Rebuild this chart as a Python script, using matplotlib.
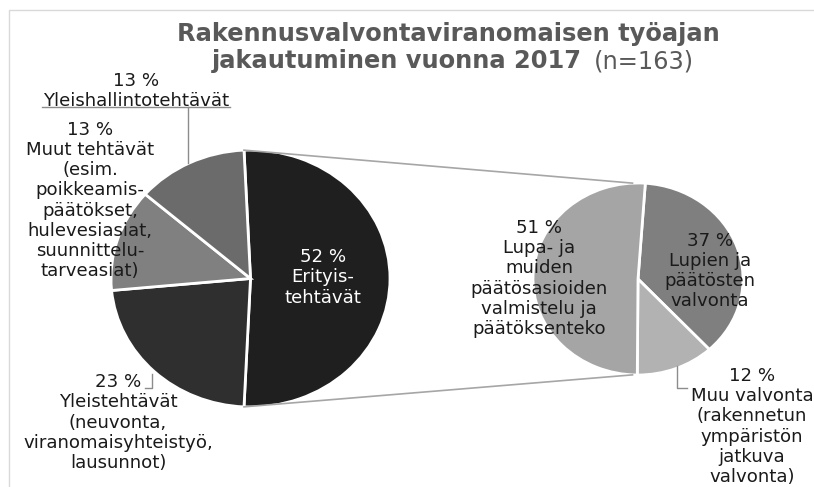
import matplotlib
matplotlib.use("Agg")
import matplotlib.pyplot as plt
import numpy as np

# ---- data ----
main_labels = ["Erityis-\ntehtävät",
               "Yleistehtävät\n(neuvonta,\nviranomaisyhteistyö,\nlausunnot)",
               "Muut tehtävät\n(esim.\npoikkeamis-\npäätökset,\nhulevesiasiat,\nsuunnittelu-\ntarveasiat)",
               "Yleishallintotehtävät"]
main_values = [52, 23, 13, 13]
main_colors = ["#1f1f1f", "#2f2f2f", "#808080", "#6b6b6b"]

sub_labels = ["Lupien ja\npäätösten\nvalvonta",
              "Muu valvonta\n(rakennetun\nympäristön\njatkuva\nvalvonta)",
              "Lupa- ja\nmuiden\npäätösasioiden\nvalmistelu ja\npäätöksenteko"]
sub_values = [37, 12, 51]
sub_colors = ["#7f7f7f", "#b2b2b2", "#a5a5a5"]

title_bold_1 = "Rakennusvalvontaviranomaisen työajan"
title_bold_2 = "jakautuminen vuonna 2017"
title_norm_2 = "(n=163)"

W, H = 814, 487
fig = plt.figure(figsize=(W / 100, H / 100), dpi=100)
fig.patch.set_facecolor("white")

def px_axes(cx, cy, rx, ry):
    return fig.add_axes([(cx - rx) / W, (H - (cy + ry)) / H, 2 * rx / W, 2 * ry / H])

# pie geometry (pixels)
mcx, mcy, mrx, mry = 250.5, 278.5, 139.5, 128.5
scx, scy, srx, sry = 638, 279, 105, 96

total = sum(main_values)
start_main = main_values[0] / total * 180.0
axm = px_axes(mcx, mcy, mrx, mry)
axm.pie(main_values, colors=main_colors, startangle=start_main, counterclock=False,
        radius=1, wedgeprops=dict(edgecolor="white", linewidth=2))
axm.set_aspect("auto")
axm.set_xlim(-1, 1); axm.set_ylim(-1, 1)
axm.axis("off")

axs = px_axes(scx, scy, srx, sry)
axs.pie(sub_values, colors=sub_colors, startangle=86, counterclock=False,
        radius=1, wedgeprops=dict(edgecolor="white", linewidth=2))
axs.set_aspect("auto")
axs.set_xlim(-1, 1); axs.set_ylim(-1, 1)
axs.axis("off")

# overlay in pixel coordinates
ov = fig.add_axes([0, 0, 1, 1], zorder=5)
ov.set_xlim(0, W); ov.set_ylim(H, 0)
ov.axis("off")

# chart border
ov.plot([9, 9, W], [H, 10, 10], color="#d9d9d9", lw=1)

# connector lines
a = np.deg2rad(start_main)
p_top = (mcx + mrx * np.cos(a), mcy - mry * np.sin(a))
p_bot = (mcx + mrx * np.cos(a), mcy + mry * np.sin(a))
b = np.deg2rad(93)
q_top = (scx + srx * np.cos(b), scy - sry * np.sin(b))
q_bot = (scx + srx * np.cos(b), scy + sry * np.sin(b))
ov.plot([p_top[0], q_top[0]], [p_top[1], q_top[1]], color="#a6a6a6", lw=1.2, zorder=1)
ov.plot([p_bot[0], q_bot[0]], [p_bot[1], q_bot[1]], color="#a6a6a6", lw=1.2, zorder=1)

# title
tc = "#595959"
tfs = 17.4
ov.text(448, 34, title_bold_1, ha="center", va="center", fontsize=tfs,
        fontweight="bold", color=tc)
ov.text(582, 61, title_bold_2, ha="right", va="center", fontsize=tfs,
        fontweight="bold", color=tc)
ov.text(594, 61, title_norm_2, ha="left", va="center", fontsize=tfs, color=tc)

fs = 13.1
ls = 1.16
def lab(x, y, pct, txt, color="#1a1a1a"):
    ov.text(x, y, f"{pct} %\n{txt}", ha="center", va="center", fontsize=fs,
            color=color, linespacing=ls, multialignment="center")

lab(323, 277.5, main_values[0], main_labels[0], color="white")
lab(118, 422.5, main_values[1], main_labels[1])
lab(90, 200.5, main_values[2], main_labels[2])
lab(136, 91, main_values[3], main_labels[3])
lab(710, 271, sub_values[0], sub_labels[0])
lab(752, 426.5, sub_values[1], sub_labels[1])
lab(539, 278.5, sub_values[2], sub_labels[2])

# leader lines
lc = "#8c8c8c"
ov.plot([42, 230], [107, 107], color=lc, lw=1)
ov.plot([188, 188], [107, 163], color=lc, lw=1)
ov.plot([145, 152, 152], [388, 388, 374], color=lc, lw=1)
ov.plot([687, 677, 677], [388, 388, 366], color=lc, lw=1)

fig.savefig("out.png", dpi=100)
